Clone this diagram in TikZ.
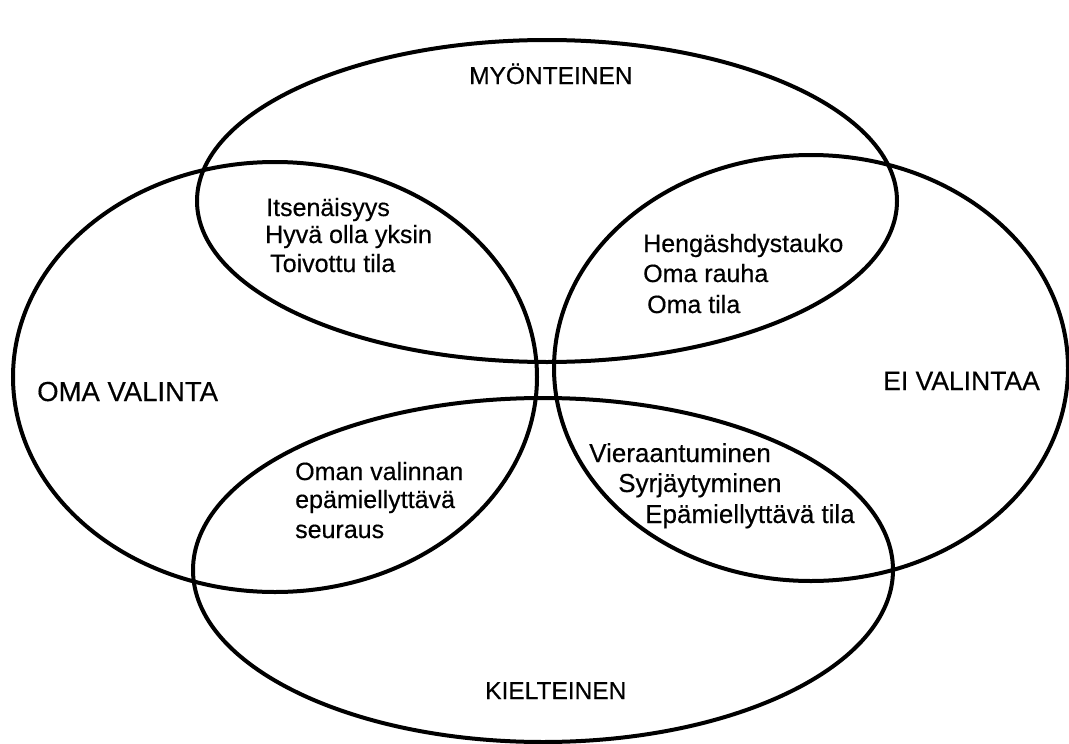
\documentclass[tikz,border=0pt]{standalone}
\usepackage{fontspec}
\setmainfont{Liberation Sans}[FakeBold=0.4]
\begin{document}
\begin{tikzpicture}[x=1pt,y=-1pt,
  ring/.style={line width=4pt,black},
  lbl/.style={anchor=base west,inner sep=0pt,font=\fontsize{25}{25}\selectfont},
  biglbl/.style={anchor=base west,inner sep=0pt,font=\fontsize{27}{27}\selectfont}]
\useasboundingbox (0,0) rectangle (1069,744);
% sets
\draw[ring] (547,201) ellipse [x radius=350pt, y radius=161pt];
\draw[ring] (275,377) ellipse [x radius=262pt, y radius=215pt];
\draw[ring] (811,368) ellipse [x radius=257pt, y radius=213pt];
\draw[ring] (543,570) ellipse [x radius=350pt, y radius=172pt];
% set labels
\node[lbl,font=\fontsize{24.5}{25}\selectfont] (myo) at (469,84) {MYÖNTEINEN};
\node[biglbl,font=\fontsize{27.5}{27}\selectfont] (oma) at (37,401) {OMA VALINTA};
\node[biglbl,font=\fontsize{26.5}{27}\selectfont] (ei) at (883,390) {EI VALINTAA};
\node[lbl,font=\fontsize{24.5}{25}\selectfont] (kiel) at (485,699) {KIELTEINEN};
% top-left intersection
\node[lbl] (t1) at (266,216) {Itsenäisyys};
\node[lbl] (t2) at (265,243) {Hyvä olla yksin};
\node[lbl] (t3) at (270,272) {Toivottu tila};
% top-right intersection
\node[lbl] (r1) at (643,252) {Hengäshdystauko};
\node[lbl] (r2) at (643,282) {Oma rauha};
\node[lbl] (r3) at (647,313) {Oma tila};
% bottom-left intersection
\node[lbl] (b1) at (295,480) {Oman valinnan};
\node[lbl] (b2) at (295,508) {epämiellyttävä};
\node[lbl] (b3) at (295,538) {seuraus};
% bottom-right intersection
\node[lbl,font=\fontsize{26}{26}\selectfont] (c1) at (589,462) {Vieraantuminen};
\node[lbl,font=\fontsize{26}{26}\selectfont] (c2) at (618,492) {Syrjäytyminen};
\node[lbl,font=\fontsize{26}{26}\selectfont] (c3) at (645,523) {Epämiellyttävä tila};
\end{tikzpicture}
\end{document}
